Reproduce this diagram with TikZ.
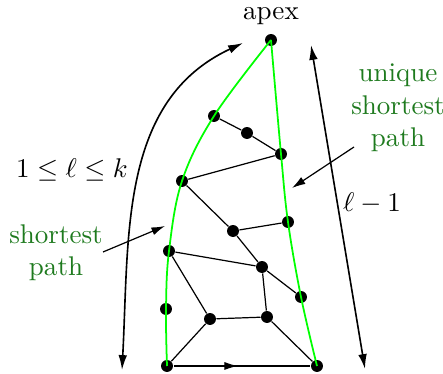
\documentclass[tikz,border=0pt]{standalone}
\usetikzlibrary{arrows.meta,decorations.markings}
\begin{document}
\begin{tikzpicture}[
    x=0.013cm, y=0.013cm,
    vertex/.style={circle, fill=black, inner sep=0pt, minimum size=0.155cm},
    link/.style={draw=black, line width=0.45pt},
    geo/.style={draw=pathgreen, line width=0.65pt},
    extent/.style={draw=black, line width=0.6pt,
        {Latex[length=5.5pt,width=3.2pt]}-{Latex[length=5.5pt,width=3.2pt]}},
    pointer/.style={draw=black, line width=0.45pt, -{Latex[length=5pt,width=3pt]}},
    note/.style={text=textgreen, align=center},
    midarrow/.style={postaction={decorate}, decoration={markings,
        mark=at position 0.47 with {\arrow{Latex[length=5pt,width=3pt]}}}}
]
\definecolor{pathgreen}{HTML}{00FF00}
\definecolor{textgreen}{HTML}{1E7A1E}

\useasboundingbox (0,0) rectangle (443,374);

% vertices, apex on top
\node[vertex] (A) at (271,334) {};
\node[vertex] (n1) at (214,258) {};
\node[vertex] (n2) at (247,241) {};
\node[vertex] (n3) at (281,220) {};
\node[vertex] (n4) at (182,193) {};
\node[vertex] (n5) at (288,152) {};
\node[vertex] (n6) at (233,143) {};
\node[vertex] (n7) at (169,123) {};
\node[vertex] (n8) at (262,107) {};
\node[vertex] (n9) at (301,77) {};
\node[vertex] (n10) at (166,65) {};
\node[vertex] (n11) at (210,55) {};
\node[vertex] (n12) at (267,57) {};
\node[vertex] (n13) at (167,8) {};
\node[vertex] (n14) at (317,8) {};

% the two shortest paths
\draw[geo] plot[smooth, tension=0.6] coordinates {(A) (n1) (n4) (n7) (n10) (n13)};
\draw[geo] plot[smooth, tension=0.6] coordinates {(A) (n3) (n5) (n9) (n14)};

% other edges
\foreach \a/\b in {n1/n2, n2/n3, n4/n3, n4/n6, n6/n5, n6/n8, n7/n8,
    n8/n9, n7/n11, n8/n12, n11/n12, n11/n13, n12/n14} {
  \draw[link] (\a) -- (\b);
}
\draw[link, midarrow] (n13) -- (n14);

% lengths
\coordinate (lenlo) at (122,4);
\coordinate (lenhi) at (243,331);
\coordinate (uplo) at (365,5);
\coordinate (uphi) at (311,329);
\draw[extent] (lenlo) to[out=87, in=205] (lenhi);
\draw[extent] (uphi) -- (uplo);

% labels
\node[anchor=base, inner sep=0pt] (apexlabel) at (271,354.5) {apex};
\node (lrange) at (72,204) {$1 \leq \ell \leq k$};
\node (lminus) at (372,171) {$\ell - 1$};
\node[note] (uniq) at (398,266) {unique\\shortest\\path};
\node[note] (short) at (56,121) {shortest\\path};

\coordinate (uniqfrom) at (354,227);
\coordinate (uniqto) at (292,186);
\coordinate (shortfrom) at (103,122);
\coordinate (shortto) at (165,148);
\draw[pointer] (uniqfrom) -- (uniqto);
\draw[pointer] (shortfrom) -- (shortto);
\end{tikzpicture}
\end{document}
